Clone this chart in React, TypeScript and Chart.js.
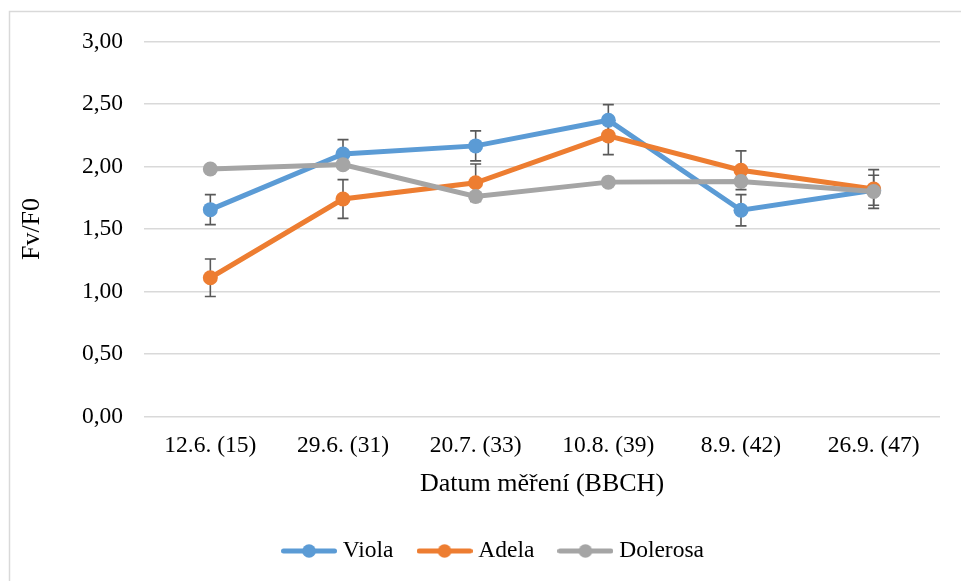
import React, { useEffect, useRef } from "react";
import { Chart, registerables } from "chart.js";

Chart.register(...registerables);

// ---- Data ----
const categories = ["12.6. (15)", "29.6. (31)", "20.7. (33)", "10.8. (39)", "8.9. (42)", "26.9. (47)"];
const seriesNames = ["Viola", "Adela", "Dolerosa"];
const viola = [1.655, 2.1, 2.165, 2.37, 1.65, 1.81];
const violaErr = [0.12, 0.115, 0.12, 0.125, 0.125, 0.12];
const adela = [1.11, 1.74, 1.87, 2.245, 1.97, 1.82];
const adelaErr = [0.15, 0.155, 0.15, 0.15, 0.155, 0.155];
const dolerosa = [1.98, 2.015, 1.76, 1.875, 1.88, 1.8];
const dolerosaErr = [0.03, 0.03, 0.03, 0.03, 0.03, 0.03];
const yTickLabels = ["0,00", "0,50", "1,00", "1,50", "2,00", "2,50", "3,00"];
const xTitle = "Datum měření (BBCH)";
const yTitle = "Fv/F0";

const colors = ["#5B9BD5", "#ED7D31", "#A5A5A5"];
const FONT = "'Liberation Serif', 'Times New Roman', serif";

function makeLegendSymbol(color: string): HTMLCanvasElement {
  const c = document.createElement("canvas");
  c.width = 56;
  c.height = 16;
  const ctx = c.getContext("2d")!;
  ctx.strokeStyle = color;
  ctx.lineWidth = 5;
  ctx.lineCap = "round";
  ctx.beginPath();
  ctx.moveTo(2.5, 8);
  ctx.lineTo(53.5, 8);
  ctx.stroke();
  ctx.fillStyle = color;
  ctx.beginPath();
  ctx.arc(28, 8, 6.8, 0, Math.PI * 2);
  ctx.fill();
  return c;
}

const errorBarPlugin = {
  id: "errorBars",
  beforeDatasetsDraw(chart: any) {
    const errs = [violaErr, adelaErr, dolerosaErr];
    const ctx = chart.ctx;
    const xs = chart.scales.x;
    const ys = chart.scales.y;
    ctx.save();
    ctx.strokeStyle = "#595959";
    ctx.lineWidth = 1.6;
    chart.data.datasets.forEach((ds: any, di: number) => {
      const err = errs[di];
      ds.data.forEach((v: number, i: number) => {
        const x = xs.getPixelForValue(i);
        const yTop = ys.getPixelForValue(v + err[i]);
        const yBot = ys.getPixelForValue(v - err[i]);
        ctx.beginPath();
        ctx.moveTo(x, yTop);
        ctx.lineTo(x, yBot);
        ctx.moveTo(x - 5.5, yTop);
        ctx.lineTo(x + 5.5, yTop);
        ctx.moveTo(x - 5.5, yBot);
        ctx.lineTo(x + 5.5, yBot);
        ctx.stroke();
      });
    });
    ctx.restore();
  },
};

const frameBorderPlugin = {
  id: "frameBorder",
  beforeDraw(chart: any) {
    const ctx = chart.ctx;
    ctx.save();
    ctx.fillStyle = "#ffffff";
    ctx.fillRect(0, 0, chart.width, chart.height);
    ctx.strokeStyle = "#D9D9D9";
    ctx.lineWidth = 1.5;
    ctx.beginPath();
    ctx.moveTo(9.5, chart.height);
    ctx.lineTo(9.5, 11.5);
    ctx.lineTo(chart.width, 11.5);
    ctx.stroke();
    ctx.restore();
  },
};

export default function App() {
  const canvasRef = useRef<HTMLCanvasElement | null>(null);

  useEffect(() => {
    if (!canvasRef.current) return;
    const symbols = colors.map(makeLegendSymbol);
    const values = [viola, adela, dolerosa];
    const chart = new Chart(canvasRef.current, {
      type: "line",
      data: {
        labels: categories,
        datasets: seriesNames.map((name, i) => ({
          label: name,
          data: values[i],
          borderColor: colors[i],
          backgroundColor: colors[i],
          borderWidth: 5,
          pointRadius: 7.5,
          pointBorderWidth: 0,
          pointBackgroundColor: colors[i],
          tension: 0,
          fill: false,
          order: 3 - i,
        })),
      },
      options: {
        responsive: false,
        animation: false,
        devicePixelRatio: 1,
        layout: { padding: { left: 51, right: 21, top: 41.5, bottom: 8.25 } },
        plugins: {
          tooltip: { enabled: false },
          legend: {
            display: true,
            position: "bottom",
            labels: {
              usePointStyle: true,
              pointStyleWidth: 44,
              padding: 29,
              color: "#000",
              font: { family: FONT, size: 23.5 },
              generateLabels: () =>
                seriesNames.map((name, i) => ({
                  text: name,
                  pointStyle: symbols[i],
                  fillStyle: colors[i],
                  strokeStyle: colors[i],
                  lineWidth: 0,
                  hidden: false,
                  datasetIndex: i,
                  fontColor: "#000",
                })),
            },
          },
        },
        scales: {
          x: {
            type: "category",
            offset: true,
            grid: { display: false, drawTicks: false },
            border: { display: false },
            ticks: {
              color: "#000",
              padding: 15.4,
              maxRotation: 0,
              autoSkip: false,
              font: { family: FONT, size: 23.5 },
            },
            title: {
              display: true,
              text: xTitle,
              color: "#000",
              font: { family: FONT, size: 26 },
              padding: { top: 0, bottom: 10.65 },
            },
            afterFit(scale: any) {
              scale.height = 93.75;
            },
          },
          y: {
            min: 0,
            max: 3,
            grid: { color: "#D9D9D9", lineWidth: 1.5, drawTicks: false },
            border: { display: false },
            ticks: {
              stepSize: 0.5,
              color: "#000",
              padding: 21,
              font: { family: FONT, size: 23.5 },
              callback: (_v: any, idx: number) => yTickLabels[idx],
            },
            title: {
              display: true,
              text: yTitle,
              color: "#000",
              font: { family: FONT, size: 26 },
              padding: { top: -34.6, bottom: 0 },
            },
            afterFit(scale: any) {
              scale.width = 93;
            },
          },
        },
      },
      plugins: [frameBorderPlugin, errorBarPlugin],
    } as any);
    return () => chart.destroy();
  }, []);

  return (
    <div style={{ position: "absolute", left: 0, top: 0, width: 961, height: 581, background: "#fff" }}>
      <canvas ref={canvasRef} width={961} height={581} style={{ width: 961, height: 581, display: "block" }} />
    </div>
  );
}
